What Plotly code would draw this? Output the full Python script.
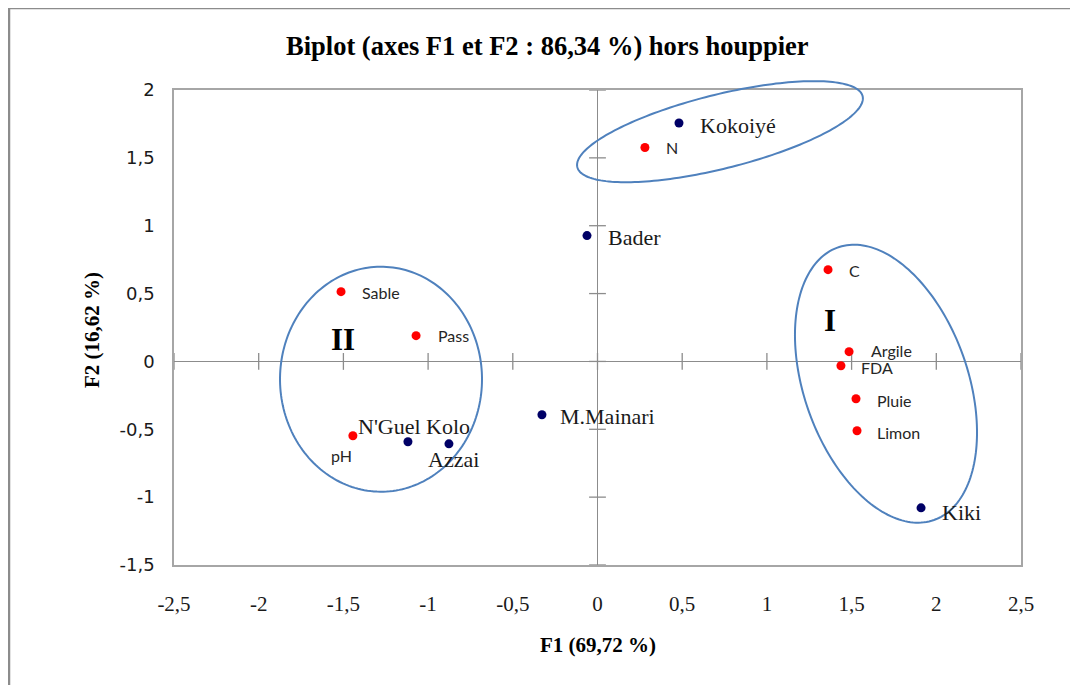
import numpy as np
import plotly.graph_objects as go

# ---------------- data ----------------
obs_names = ["Kokoiyé", "Bader", "M.Mainari", "N'Guel Kolo", "Azzai", "Kiki"]
obs_f1 = [0.481, -0.062, -0.328, -1.119, -0.877, 1.910]
obs_f2 = [1.757, 0.927, -0.393, -0.592, -0.607, -1.079]

var_names = ["N", "C", "Sable", "Pass", "Argile", "FDA", "Pluie", "Limon", "pH"]
var_f1 = [0.280, 1.361, -1.514, -1.071, 1.485, 1.437, 1.526, 1.532, -1.444]
var_f2 = [1.576, 0.676, 0.514, 0.190, 0.072, -0.032, -0.275, -0.511, -0.548]

x_tickvals = [-2.5, -2, -1.5, -1, -0.5, 0, 0.5, 1, 1.5, 2, 2.5]
x_ticktext = ["-2,5", "-2", "-1,5", "-1", "-0,5", "0", "0,5", "1", "1,5", "2", "2,5"]
y_tickvals = [-1.5, -1, -0.5, 0, 0.5, 1, 1.5, 2]
y_ticktext = ["-1,5", "-1", "-0,5", "0", "0,5", "1", "1,5", "2"]

group_names = ["I", "II"]
group_f1 = [1.375, -1.50]
group_f2 = [0.30, 0.16]

title_text = "Biplot (axes F1 et F2 : 86,34 %) hors houppier"
xtitle_text = "F1 (69,72 %)"
ytitle_text = "F2 (16,62 %)"

# ---------------- layout geometry ----------------
OFF = 8  # page body margin of the browser
W, H = 1078, 685
# target plot area on screen: x 174..1021, y 90..565
ML = 174 - OFF
MT = 90 - OFF
MR = W - (1021 - OFF)
MB = H - (565 - OFF)
xr = [-2.5, 2.5]
yr = [-1.5, 2.0]
sx = (W - ML - MR) / (xr[1] - xr[0])   # px per unit
sy = (H - MT - MB) / (yr[1] - yr[0])

# label offsets (px, right / down) relative to the point
label_off = {
    "Kokoiyé": (19, 3), "Bader": (19, 2), "M.Mainari": (16, 2),
    "N'Guel Kolo": (-52, -15), "Azzai": (-23, 16), "Kiki": (19, 5),
    "N": (20, 0), "C": (20, 1), "Sable": (20, 1), "Pass": (21, 0),
    "Argile": (21, -1), "FDA": (19, 2), "Pluie": (20, 2), "Limon": (19, 2),
    "pH": (-23, 20),
}

# ellipses: centre (data), semi-axes (px), rotation (deg, screen, y up)
ellipses = [
    ((0.723, 1.693), 147, 37, 14),
    ((1.703, -0.164), 144.5, 82, -70.6),
    ((-1.278, -0.131), 101, 112.5, 0),
]


def d2paper(x, y):
    return (np.asarray(x) - xr[0]) / (xr[1] - xr[0]), (np.asarray(y) - yr[0]) / (yr[1] - yr[0])


fig = go.Figure()

# tick crosses on the zero axes
fig.add_trace(go.Scatter(
    x=x_tickvals, y=[0] * len(x_tickvals), mode="markers",
    marker=dict(symbol="line-ns", size=12, line=dict(color="#8c8c8c", width=1.3)),
    hoverinfo="skip", showlegend=False, cliponaxis=False))
fig.add_trace(go.Scatter(
    x=[0] * len(y_tickvals), y=y_tickvals, mode="markers",
    marker=dict(symbol="line-ew", size=12, line=dict(color="#8c8c8c", width=1.3)),
    hoverinfo="skip", showlegend=False, cliponaxis=False))

# ellipses as paper-referenced paths (not clipped by the plot area)
shapes = []
t = np.linspace(0, 2 * np.pi, 200)
for (cx, cy), a, b, ang in ellipses:
    th = np.deg2rad(ang)
    u, v = a * np.cos(t), b * np.sin(t)
    dx = u * np.cos(th) - v * np.sin(th)
    dy = u * np.sin(th) + v * np.cos(th)
    px_, py_ = d2paper(cx + dx / sx, cy + dy / sy)
    path = "M " + " L ".join("%.5f,%.5f" % (p, q) for p, q in zip(px_, py_)) + " Z"
    shapes.append(dict(type="path", xref="paper", yref="paper", path=path,
                       line=dict(color="#4f81bd", width=2), layer="above"))

# points
fig.add_trace(go.Scatter(
    x=var_f1, y=var_f2, mode="markers",
    marker=dict(color="#ff0000", size=9), showlegend=False, text=var_names))
fig.add_trace(go.Scatter(
    x=obs_f1, y=obs_f2, mode="markers",
    marker=dict(color="#000066", size=9), showlegend=False, text=obs_names))

annotations = []
for n, x, y in zip(obs_names, obs_f1, obs_f2):
    ox, oy = label_off[n]
    annotations.append(dict(
        x=x, y=y, xref="x", yref="y", text=n, showarrow=False,
        xanchor="left", yanchor="middle", xshift=ox, yshift=-oy,
        font=dict(family="Liberation Serif", size=22, color="#1a1a1a")))
for n, x, y in zip(var_names, var_f1, var_f2):
    ox, oy = label_off[n]
    annotations.append(dict(
        x=x, y=y, xref="x", yref="y", text=n, showarrow=False,
        xanchor="left", yanchor="middle", xshift=ox, yshift=-oy, borderpad=0,
        font=dict(family="Lato", size=16, color="#262626")))
for n, x, y in zip(group_names, group_f1, group_f2):
    annotations.append(dict(
        x=x, y=y, xref="x", yref="y", text="<b>%s</b>" % n, showarrow=False,
        xanchor="center", yanchor="middle",
        font=dict(family="Liberation Serif", size=31, color="#000000")))


def px2paper(px, py):
    # screen pixel -> paper coordinates
    px, py = px - OFF, py - OFF
    return (px - ML) / (W - ML - MR), (H - MB - py) / (H - MT - MB)


tx, ty = px2paper(547, 46)
annotations.append(dict(
    x=tx, y=ty, xref="paper", yref="paper", text="<b>%s</b>" % title_text,
    showarrow=False, xanchor="center", yanchor="middle",
    font=dict(family="Liberation Serif", size=26.5, color="#000000")))
tx, ty = px2paper(598, 645)
annotations.append(dict(
    x=tx, y=ty, xref="paper", yref="paper", text="<b>%s</b>" % xtitle_text,
    showarrow=False, xanchor="center", yanchor="middle",
    font=dict(family="Liberation Serif", size=21, color="#000000")))
tx, ty = px2paper(92, 330)
annotations.append(dict(
    x=tx, y=ty, xref="paper", yref="paper", text="<b>%s</b>" % ytitle_text,
    showarrow=False, xanchor="center", yanchor="middle", textangle=-90,
    font=dict(family="Liberation Serif", size=21, color="#000000")))

fx0, fy1 = px2paper(9, 8)
shapes.append(dict(type="rect", xref="paper", yref="paper",
                   x0=fx0, x1=1.3, y0=-0.4, y1=fy1,
                   line=dict(color="#8c8c8c", width=2.5), layer="below"))

fig.update_layout(
    width=W, height=H,
    margin=dict(l=ML, r=MR, t=MT, b=MB),
    paper_bgcolor="white", plot_bgcolor="white",
    annotations=annotations, shapes=shapes,
    xaxis=dict(range=xr, tickvals=x_tickvals, ticktext=x_ticktext,
               showgrid=False, zeroline=True, zerolinecolor="#8c8c8c",
               zerolinewidth=1.3, showline=True, mirror=True,
               linecolor="#a6a6a6", linewidth=1.5, ticks="",
               ticklabelstandoff=19,
               tickfont=dict(family="Liberation Serif", size=21, color="#1a1a1a")),
    yaxis=dict(range=yr, tickvals=y_tickvals, ticktext=y_ticktext,
               showgrid=False, zeroline=True, zerolinecolor="#8c8c8c",
               zerolinewidth=1.3, showline=True, mirror=True,
               linecolor="#a6a6a6", linewidth=1.5, ticks="",
               ticklabelstandoff=14,
               tickfont=dict(family="DejaVu Sans", size=18, color="#1a1a1a")),
    showlegend=False,
)

fig.write_html("out.html")
